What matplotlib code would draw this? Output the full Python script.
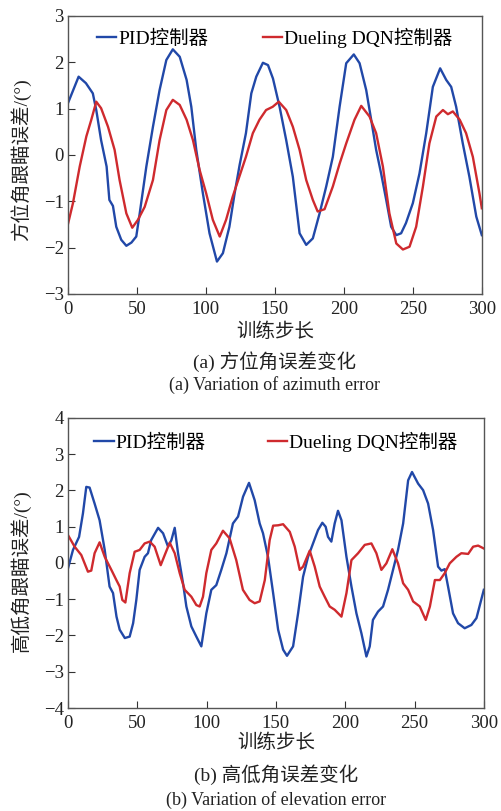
import matplotlib
matplotlib.use("Agg")
import matplotlib.pyplot as plt

plt.rcParams['font.family'] = ['Liberation Serif', 'Noto Sans CJK SC']
plt.rcParams['axes.unicode_minus'] = True

# ---- data (a) azimuth ----
a_pid_x = [0, 7.7, 13, 18, 20.5, 24, 28, 30, 32.6, 35, 38.6, 42.3, 46, 49.5, 52, 56.8, 61.6, 66.4, 71.3, 76,
           81, 86, 89.4, 93, 97.8, 102.6, 108, 112.3, 117, 120.8, 124.4, 129, 132.9, 136.5, 141.3, 145, 148.6,
           153.4, 158.2, 163, 167.9, 172.7, 177.5, 182.4, 187.2, 192, 196.9, 201.7, 207.2, 211.4, 216.2, 219.8,
           223.4, 227, 230.7, 234.3, 238, 241.5, 245, 250, 254.8, 259.7, 264.5, 269.8, 274.2, 277.8, 281.4,
           286.2, 291, 296, 300]
a_pid_y = [1.12, 1.69, 1.55, 1.33, 0.97, 0.32, -0.25, -0.97, -1.1, -1.55, -1.83, -1.96, -1.89, -1.76, -1.26,
           -0.25, 0.61, 1.40, 2.05, 2.28, 2.12, 1.62, 1.04, 0.11, -0.83, -1.69, -2.30, -2.12, -1.55, -0.83, -0.22,
           0.47, 1.33, 1.69, 1.99, 1.94, 1.65, 1.04, 0.32, -0.47, -1.69, -1.94, -1.80, -1.26, -0.68, -0.04, 1.04,
           1.98, 2.17, 1.98, 1.40, 0.76, 0.11, -0.40, -0.97, -1.55, -1.73, -1.69, -1.47, -1.04, -0.40, 0.47, 1.47,
           1.87, 1.62, 1.47, 1.04, 0.25, -0.47, -1.33, -1.73]
a_dqn_x = [0, 3.6, 8.5, 13.3, 16.9, 20.5, 24, 29, 33.8, 37.4, 42.3, 46.6, 50.7, 55.6, 61.6, 66.4, 71.3, 76, 81,
           86, 90.6, 95.4, 100.2, 105, 110, 114.6, 119.4, 124.2, 129, 134, 138.8, 143.6, 148.4, 152.8, 158.2, 163,
           167.9, 172.7, 177.5, 181, 186, 192, 197, 201.7, 207.7, 212.6, 218.6, 223.4, 228.3, 233, 238, 242.8,
           247.6, 252.4, 257.3, 262, 267, 271.8, 275.4, 279, 284, 288.6, 293.5, 298.3, 300]
a_dqn_y = [-1.49, -1.04, -0.25, 0.40, 0.76, 1.15, 1.01, 0.61, 0.11, -0.54, -1.26, -1.57, -1.40, -1.12, -0.54,
           0.32, 0.97, 1.19, 1.08, 0.76, 0.32, -0.32, -0.83, -1.40, -1.76, -1.40, -0.90, -0.47, -0.04, 0.47, 0.76,
           0.97, 1.04, 1.15, 0.97, 0.61, 0.11, -0.54, -0.97, -1.22, -1.17, -0.68, -0.18, 0.25, 0.76, 1.06, 0.83,
           0.47, -0.25, -1.26, -1.91, -2.04, -1.98, -1.55, -0.68, 0.25, 0.83, 0.97, 0.88, 0.94, 0.76, 0.47, -0.04,
           -0.83, -1.15]

# ---- data (b) elevation ----
b_pid_x = [0, 3.6, 8, 10.8, 13.2, 15.6, 19.2, 22.8, 26.5, 30, 32.5, 35, 37.3, 41, 44.5, 47, 49.3, 51.7, 55.3,
           57.7, 60, 65, 68.6, 72.2, 74.6, 77, 79.4, 83, 85.4, 89, 92.6, 96.2, 99.8, 103.4, 107, 110.6, 114.3, 119,
           122.7, 126.3, 130.6, 134.7, 138.3, 140.7, 144.3, 148, 151.6, 155.2, 158, 162.4, 166, 169.6, 173.2,
           176.8, 180.4, 183.5, 185.9, 187.6, 190, 192.4, 194.8, 197.3, 200.9, 204.5, 208.1, 211.7, 215.3, 217.7,
           220, 223.7, 227.3, 230.9, 234.5, 238.1, 241.8, 245.4, 248.2, 252.6, 256.2, 259.8, 263.4, 267, 269.4,
           271.8, 274.2, 277.8, 281.4, 286.2, 291, 294.7, 300]
b_pid_y = [-0.15, 0.36, 0.72, 1.37, 2.10, 2.08, 1.64, 1.18, 0.36, -0.65, -0.83, -1.48, -1.84, -2.07, -2.03,
           -1.66, -1.02, -0.19, 0.17, 0.27, 0.63, 0.97, 0.82, 0.45, 0.63, 0.97, 0.27, -0.56, -1.20, -1.75, -2.03,
           -2.30, -1.39, -0.74, -0.61, -0.19, 0.27, 1.09, 1.28, 1.83, 2.21, 1.73, 1.09, 0.82, 0.17, -0.83, -1.84,
           -2.39, -2.56, -2.30, -1.39, -0.38, 0.17, 0.54, 0.91, 1.11, 1.00, 0.72, 0.59, 1.09, 1.44, 1.18, 0.17,
           -0.65, -1.39, -1.94, -2.58, -2.30, -1.57, -1.34, -1.20, -0.74, -0.19, 0.36, 1.09, 2.28, 2.51, 2.19,
           2.01, 1.64, 0.91, -0.10, -0.21, -0.17, -0.65, -1.39, -1.66, -1.80, -1.71, -1.52, -0.74]
b_dqn_x = [0, 4.8, 9.6, 14.4, 16.8, 19.2, 22.8, 26.5, 31.3, 34.9, 37.3, 39.2, 41.4, 44.5, 48.1, 51.7, 55.3, 59,
           62.5, 66.9, 69.8, 73.4, 77, 80.6, 84.2, 89, 92.6, 95, 97.4, 99.8, 103.4, 107, 111.8, 116.6, 121.4,
           126.2, 131, 134.7, 138.3, 142, 145.5, 148, 151.6, 155.2, 160, 163.6, 167.2, 169.6, 174.4, 178, 181.6,
           185.2, 188.8, 192.4, 197.3, 200.9, 204.5, 209.3, 214.1, 218.9, 222.5, 226.1, 229.7, 234, 238.1, 241.8,
           245.4, 249, 253.8, 258.1, 261.1, 264.7, 268.3, 271.8, 275.4, 280.2, 283.8, 288.7, 292.3, 295.9, 300]
b_dqn_y = [0.77, 0.45, 0.22, -0.24, -0.21, 0.27, 0.57, 0.17, -0.19, -0.47, -0.65, -1.02, -1.09, -0.28, 0.31,
           0.36, 0.54, 0.59, 0.45, -0.06, 0.22, 0.56, 0.27, -0.28, -0.74, -0.93, -1.16, -1.20, -0.93, -0.28, 0.36,
           0.54, 0.89, 0.68, 0.08, -0.74, -1.02, -1.11, -1.06, -0.47, 0.63, 1.03, 1.04, 1.07, 0.86, 0.45, -0.19,
           -0.10, 0.34, -0.10, -0.65, -0.93, -1.20, -1.29, -1.48, -0.83, 0.08, 0.27, 0.50, 0.54, 0.27, -0.19,
           -0.01, 0.38, -0.01, -0.56, -0.74, -1.06, -1.20, -1.57, -1.20, -0.47, -0.47, -0.28, -0.01, 0.17, 0.27,
           0.25, 0.45, 0.48, 0.40]

series_labels = ['PID控制器', 'Dueling DQN控制器']
x_ticks = [0, 50, 100, 150, 200, 250, 300]
a_yticks = [-3, -2, -1, 0, 1, 2, 3]
b_yticks = [-4, -3, -2, -1, 0, 1, 2, 3, 4]
xlabel = '训练步长'
a_ylabel = '方位角跟瞄误差/(°)'
b_ylabel = '高低角跟瞄误差/(°)'
a_cap1 = '(a) 方位角误差变化'
a_cap2 = '(a) Variation of azimuth error'
b_cap1 = '(b) 高低角误差变化'
b_cap2 = '(b) Variation of elevation error'

BLUE = '#2148a8'
RED = '#cf2a2e'
TXT = '#222222'

fig = plt.figure(figsize=(5.01, 8.11), dpi=100)
ax1 = fig.add_axes([0.1357, 0.6375, 0.826, 0.3428])
ax2 = fig.add_axes([0.1357, 0.127, 0.830, 0.3576])


def style(ax, yticks, ylim):
    ax.set_xlim(0, 300)
    ax.set_ylim(*ylim)
    ax.set_xticks(x_ticks)
    ax.set_yticks(yticks)
    ax.tick_params(axis='both', direction='in', length=5, width=0.8, labelsize=13.5, top=False, right=False,
                   colors='#333333', labelcolor=TXT)
    ax.tick_params(axis='x', pad=5)
    ax.tick_params(axis='y', pad=3)
    for s in ax.spines.values():
        s.set_color('#555555')
        s.set_linewidth(1.0)


ax1.plot(a_pid_x, a_pid_y, color=BLUE, lw=1.7, label=series_labels[0])
ax1.plot(a_dqn_x, a_dqn_y, color=RED, lw=1.7, label=series_labels[1])
style(ax1, a_yticks, (-3, 3))
ax1.legend(loc='upper center', bbox_to_anchor=(0.5, 1.0), ncol=2, frameon=False, fontsize=14,
           handlelength=1.0, handletextpad=0.1, columnspacing=2.8, borderaxespad=0.2)

ax2.plot(b_pid_x, b_pid_y, color=BLUE, lw=1.7, label=series_labels[0])
ax2.plot(b_dqn_x, b_dqn_y, color=RED, lw=1.7, label=series_labels[1])
style(ax2, b_yticks, (-4, 4))
ax2.legend(loc='upper center', bbox_to_anchor=(0.5, 1.0), ncol=2, frameon=False, fontsize=14,
           handlelength=1.0, handletextpad=0.1, columnspacing=3.2, borderaxespad=0.3)

cx = 0.1357 + 0.826 / 2
fig.text(cx, 0.5906, xlabel, ha='center', va='center', fontsize=14, color=TXT)
fig.text(cx, 0.5536, a_cap1, ha='center', va='center', fontsize=14, color=TXT)
fig.text(cx, 0.5253, a_cap2, ha='center', va='center', fontsize=13, color=TXT)
fig.text(0.042, 0.803, a_ylabel, ha='center', va='center', rotation=90, fontsize=14, color=TXT)

cx2 = 0.1357 + 0.830 / 2
fig.text(cx2, 0.0838, xlabel, ha='center', va='center', fontsize=14, color=TXT)
fig.text(cx2, 0.0444, b_cap1, ha='center', va='center', fontsize=14, color=TXT)
fig.text(cx2, 0.0136, b_cap2, ha='center', va='center', fontsize=13, color=TXT)
fig.text(0.042, 0.297, b_ylabel, ha='center', va='center', rotation=90, fontsize=14, color=TXT)

fig.savefig('out.png', dpi=100)
